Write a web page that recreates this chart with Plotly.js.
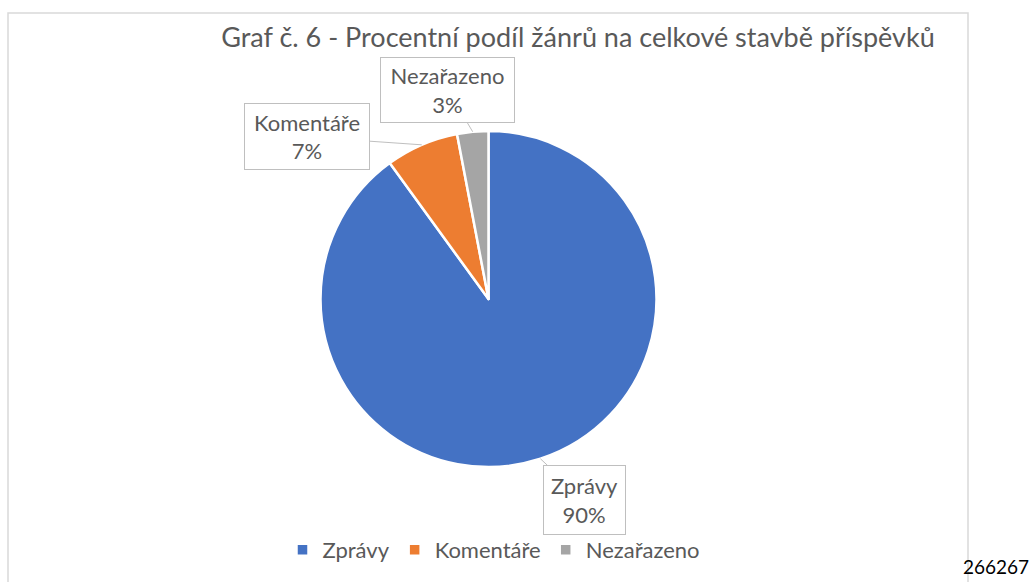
<!DOCTYPE html>
<html>
<head>
<meta charset="utf-8">
<script src="https://cdn.plot.ly/plotly-3.0.1.min.js"></script>
<style>
html,body{margin:0;padding:0;background:#fff;}
#chart{width:1034px;height:582px;}
</style>
</head>
<body>
<div id="chart"></div>
<script>
const titleText = "Graf č. 6 - Procentní podíl žánrů na celkové stavbě příspěvků";
const categories = ["Zprávy", "Komentáře", "Nezařazeno"];
const shares = [90, 7, 3];
const colors = ["#4472C4", "#ED7D31", "#A5A5A5"];
const footerText = "266267";

const W = 1034, H = 582;
const FONT = "Lato, 'Open Sans', sans-serif";
const TXT = "#595959";
// pie geometry (pixels)
const cx = 488.5, cy = 299, R = 168;

// callout box offsets (pixel offset from slice edge to box centre) and box sizes
const callouts = [
  {ax: 44, ay: 41, w: 73, h: 60},
  {ax: -115, ay: -8, w: 116, h: 57},
  {ax: -25, ay: -42, w: 125, h: 56}
];

const total = shares.reduce((a, b) => a + b, 0);
let cum = 0;
const annotations = [];
shares.forEach((v, i) => {
  const mid = (cum + v / 2) / total * 2 * Math.PI;
  cum += v;
  const px = cx + R * Math.sin(mid);
  const py = cy - R * Math.cos(mid);
  const c = callouts[i];
  annotations.push({
    x: px / W, y: 1 - py / H, xref: "paper", yref: "paper",
    text: categories[i] + "<br>" + Math.round(v / total * 100) + "%",
    showarrow: true, arrowhead: 0, arrowwidth: 1, arrowcolor: "#BFBFBF",
    ax: c.ax, ay: c.ay, standoff: 0,
    bordercolor: "#BFBFBF", borderwidth: 1, borderpad: 4,
    bgcolor: "#FFFFFF", width: c.w, height: c.h,
    font: {family: FONT, size: 22, color: TXT}
  });
});
annotations.push({
  x: 1031 / W, y: 1 - 566 / H, xref: "paper", yref: "paper",
  text: footerText, showarrow: false, xanchor: "right", yanchor: "middle",
  font: {family: FONT, size: 19, color: "#000000"}
});

const data = [{
  type: "pie",
  labels: categories,
  values: shares,
  sort: false,
  direction: "clockwise",
  rotation: 0,
  textinfo: "none",
  hoverinfo: "label+percent",
  marker: {colors: colors, line: {color: "#FFFFFF", width: 2.5}},
  domain: {x: [(cx - R) / W, (cx + R) / W], y: [1 - (cy + R) / H, 1 - (cy - R) / H]}
}];

const layout = {
  width: W, height: H,
  margin: {l: 0, r: 0, t: 0, b: 0},
  paper_bgcolor: "#FFFFFF",
  font: {family: FONT, color: TXT},
  title: {
    text: titleText, xref: "paper", yref: "paper",
    x: 578 / W, xanchor: "center", y: 1 - 38 / H, yanchor: "middle",
    font: {family: FONT, size: 27, color: TXT}
  },
  showlegend: true,
  legend: {
    orientation: "h", x: 494 / W, xanchor: "center",
    y: 1 - 550 / H, yanchor: "middle",
    font: {family: FONT, size: 22, color: TXT},
    traceorder: "normal"
  },
  shapes: [{
    type: "rect", xref: "paper", yref: "paper",
    x0: 8 / W, x1: 968 / W, y0: -0.05, y1: 1 - 13 / H,
    line: {color: "#D9D9D9", width: 1.5}, fillcolor: "rgba(0,0,0,0)", layer: "below"
  }],
  annotations: annotations
};

Plotly.newPlot("chart", data, layout, {displayModeBar: false, staticPlot: true});
</script>
</body>
</html>
